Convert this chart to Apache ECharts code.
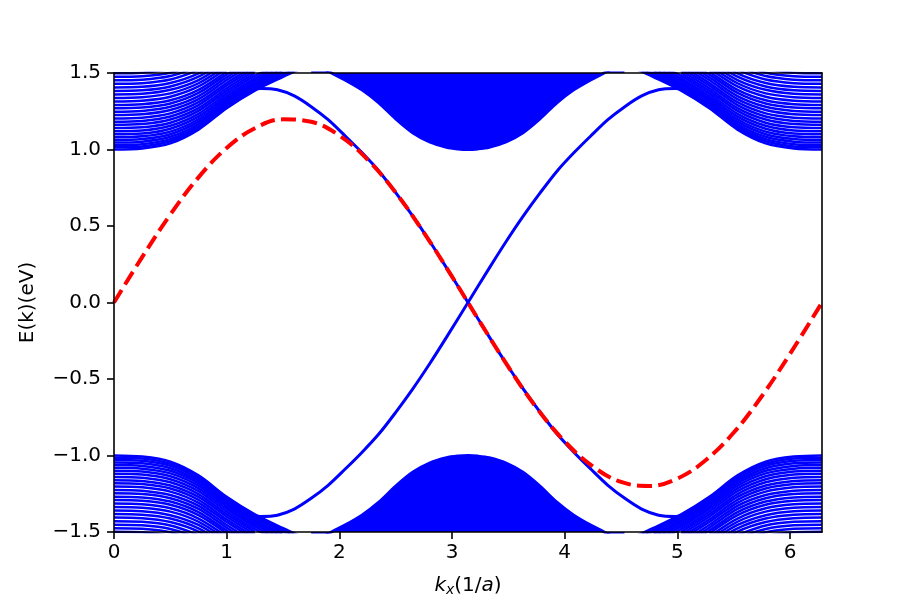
<!DOCTYPE html>
<html>
<head>
<meta charset="utf-8">
<script src="https://cdn.jsdelivr.net/npm/echarts@6/dist/echarts.min.js"></script>
<style>
html,body{margin:0;padding:0;background:#fff;}
#chart{width:913px;height:609px;}
</style>
</head>
<body>
<div id="chart"></div>
<script>
// ---- data ----
const xTicks = [0, 1, 2, 3, 4, 5, 6];
const yTicks = [-1.5, -1.0, -0.5, 0.0, 0.5, 1.0, 1.5];

// k positions of the bulk sub-band samples (left and right edges of the zone)
const kLeft  = [0, 0.25, 0.5, 0.75, 1.0, 1.25, 1.5, 1.75];
const kRight = [6.2832, 6.0332, 5.7832, 5.5332, 5.2832, 5.0332, 4.7832, 4.5332];

// conduction sub-bands near the zone edges (one row per band)
const bulkUpper = [
  [1.000, 1.007, 1.040, 1.130, 1.270, 1.385, 1.475, 1.560],
  [1.014, 1.020, 1.054, 1.140, 1.281, 1.398, 1.487, 1.569],
  [1.029, 1.035, 1.068, 1.153, 1.293, 1.410, 1.498, 1.579],
  [1.045, 1.051, 1.083, 1.167, 1.306, 1.423, 1.511],
  [1.062, 1.068, 1.100, 1.182, 1.319, 1.436, 1.523],
  [1.080, 1.086, 1.117, 1.198, 1.334, 1.450, 1.535],
  [1.099, 1.104, 1.136, 1.215, 1.349, 1.465, 1.549],
  [1.119, 1.124, 1.155, 1.233, 1.366, 1.481, 1.563],
  [1.140, 1.145, 1.175, 1.252, 1.383, 1.498],
  [1.161, 1.166, 1.196, 1.271, 1.400, 1.515],
  [1.182, 1.187, 1.216, 1.290, 1.418, 1.532],
  [1.203, 1.208, 1.236, 1.309, 1.435, 1.549],
  [1.225, 1.230, 1.258, 1.329, 1.454, 1.567],
  [1.247, 1.252, 1.279, 1.349, 1.472, 1.585],
  [1.269, 1.274, 1.301, 1.370, 1.491, 1.603],
  [1.291, 1.296, 1.322, 1.390, 1.510],
  [1.314, 1.319, 1.345, 1.412, 1.530],
  [1.337, 1.342, 1.367, 1.433, 1.549],
  [1.360, 1.364, 1.390, 1.454, 1.569],
  [1.383, 1.387, 1.412, 1.476, 1.589],
  [1.406, 1.410, 1.435, 1.498, 1.609],
  [1.429, 1.433, 1.457, 1.519],
  [1.452, 1.456, 1.480, 1.541],
  [1.475, 1.479, 1.502, 1.562],
  [1.498, 1.502, 1.525]
];
// valence sub-bands near the zone edges
const bulkLower = [
  [-1.000, -1.007, -1.040, -1.130, -1.270, -1.385, -1.475, -1.560],
  [-1.014, -1.020, -1.054, -1.140, -1.281, -1.398, -1.487, -1.569],
  [-1.029, -1.035, -1.068, -1.153, -1.293, -1.410, -1.498, -1.579],
  [-1.045, -1.051, -1.083, -1.167, -1.306, -1.423, -1.511],
  [-1.062, -1.068, -1.100, -1.182, -1.319, -1.436, -1.523],
  [-1.080, -1.086, -1.117, -1.198, -1.334, -1.450, -1.535],
  [-1.099, -1.104, -1.136, -1.215, -1.349, -1.465, -1.549],
  [-1.119, -1.124, -1.155, -1.233, -1.366, -1.481, -1.563],
  [-1.140, -1.145, -1.175, -1.252, -1.383, -1.498],
  [-1.161, -1.166, -1.196, -1.271, -1.400, -1.515],
  [-1.182, -1.187, -1.216, -1.290, -1.418, -1.532],
  [-1.203, -1.208, -1.236, -1.309, -1.435, -1.549],
  [-1.225, -1.230, -1.258, -1.329, -1.454, -1.567],
  [-1.247, -1.252, -1.279, -1.349, -1.472, -1.585],
  [-1.269, -1.274, -1.301, -1.370, -1.491, -1.603],
  [-1.291, -1.296, -1.322, -1.390, -1.510],
  [-1.314, -1.319, -1.345, -1.412, -1.530],
  [-1.337, -1.342, -1.367, -1.433, -1.549],
  [-1.360, -1.364, -1.390, -1.454, -1.569],
  [-1.383, -1.387, -1.412, -1.476, -1.589],
  [-1.406, -1.410, -1.435, -1.498, -1.609],
  [-1.429, -1.433, -1.457, -1.519],
  [-1.452, -1.456, -1.480, -1.541],
  [-1.475, -1.479, -1.502, -1.562],
  [-1.498, -1.502, -1.525]
];

// dense bulk continuum around k = pi (band edge)
const kMid      = [1.75, 1.93, 2.05, 2.20, 2.35, 2.50, 2.65, 2.80, 2.95, 3.05, 3.1416, 3.23, 3.33, 3.48, 3.63, 3.78, 3.93, 4.08, 4.23, 4.35, 4.53];
const midUpperE = [1.58, 1.50, 1.455, 1.39, 1.305, 1.20, 1.11, 1.05, 1.015, 1.004, 1.000, 1.004, 1.015, 1.05, 1.11, 1.20, 1.305, 1.39, 1.455, 1.50, 1.58];
const midLowerE = [-1.58, -1.50, -1.455, -1.39, -1.305, -1.20, -1.11, -1.05, -1.015, -1.004, -1.000, -1.004, -1.015, -1.05, -1.11, -1.20, -1.305, -1.39, -1.455, -1.50, -1.58];

// edge states
const kEdge  = [1.00, 1.15, 1.30, 1.45, 1.60, 1.75, 1.90, 2.05, 2.20, 2.35, 2.50, 2.65, 2.80, 2.95, 3.1416,
                3.333, 3.483, 3.633, 3.783, 3.933, 4.083, 4.233, 4.383, 4.533, 4.683, 4.833, 4.983, 5.133, 5.283];
const edge1E = [1.33, 1.375, 1.398, 1.39, 1.35, 1.28, 1.195, 1.09, 0.98, 0.86, 0.718, 0.566, 0.402, 0.228, 0.0,
                -0.228, -0.402, -0.566, -0.718, -0.86, -0.98, -1.09, -1.195, -1.28, -1.35, -1.39, -1.398, -1.375, -1.33];
const edge2E = [-1.33, -1.375, -1.398, -1.39, -1.35, -1.28, -1.195, -1.09, -0.98, -0.86, -0.718, -0.566, -0.402, -0.228, 0.0,
                0.228, 0.402, 0.566, 0.718, 0.86, 0.98, 1.09, 1.195, 1.28, 1.35, 1.39, 1.398, 1.375, 1.33];

// red dashed reference curve
const kRef = [0, 0.25, 0.5, 0.75, 1.0, 1.25, 1.5, 1.75, 2.0, 2.25, 2.5, 2.75, 3.0, 3.25, 3.5, 3.75, 4.0, 4.25, 4.5, 4.75, 5.0, 5.25, 5.5, 5.75, 6.0, 6.2832];
const refE = [0.0, 0.297, 0.575, 0.818, 1.010, 1.139, 1.197, 1.181, 1.091, 0.934, 0.718, 0.457, 0.169, -0.130, -0.421, -0.688, -0.908, -1.072, -1.173, -1.199, -1.151, -1.031, -0.850, -0.611, -0.335, 0.0];

// ---- build chart ----
const BLUE = '#0000ff';
const LW = 3;
const LW_SUB = 2.5;
const font = 'DejaVu Sans';
const FS = 20;

function pairs(ks, es) { return es.map((e, i) => [ks[i], e]); }

const series = [];
function bandLine(data) {
  series.push({
    type: 'line', data: data, showSymbol: false, symbol: 'none',
    smooth: 0.3, clip: true, silent: true,
    lineStyle: { color: BLUE, width: LW_SUB }, z: 2
  });
}
bulkUpper.forEach(r => { bandLine(pairs(kLeft, r)); bandLine(pairs(kRight, r)); });
bulkLower.forEach(r => { bandLine(pairs(kLeft, r)); bandLine(pairs(kRight, r)); });

series.push({
  type: 'line', data: pairs(kMid, midUpperE), showSymbol: false, symbol: 'none',
  smooth: 0.3, clip: true, silent: true,
  lineStyle: { color: BLUE, width: LW }, areaStyle: { color: BLUE, opacity: 1, origin: 'end' }, z: 2
});
series.push({
  type: 'line', data: pairs(kMid, midLowerE), showSymbol: false, symbol: 'none',
  smooth: 0.3, clip: true, silent: true,
  lineStyle: { color: BLUE, width: LW }, areaStyle: { color: BLUE, opacity: 1, origin: 'start' }, z: 2
});
[edge1E, edge2E].forEach(e => series.push({
  type: 'line', data: pairs(kEdge, e), showSymbol: false, symbol: 'none',
  smooth: 0.3, clip: true, silent: true,
  lineStyle: { color: BLUE, width: LW }, z: 3
}));
series.push({
  type: 'line', data: pairs(kRef, refE), showSymbol: false, symbol: 'none',
  smooth: 0.4, clip: true, silent: true,
  lineStyle: { color: '#ff0000', width: 4, type: [14.8, 6.4], cap: 'butt' }, z: 4
});

const fmtY = v => v.toFixed(1).replace('-', '\u2212');
const axisLineStyle = { color: '#000', width: 1.6 };

const chart = echarts.init(document.getElementById('chart'), null, { renderer: 'canvas' });
chart.setOption({
  animation: false,
  backgroundColor: '#ffffff',
  textStyle: { fontFamily: font },
  grid: { left: 114, right: 91, top: 73, bottom: 77, containLabel: false },
  xAxis: [{
    type: 'value', min: 0, max: 6.283185, interval: 1, position: 'bottom', z: 10,
    axisLine: { show: true, onZero: false, lineStyle: axisLineStyle },
    axisTick: { show: true, inside: false, length: 7, lineStyle: axisLineStyle, customValues: xTicks },
    axisLabel: { show: true, margin: 11, fontSize: FS, color: '#000', fontFamily: font, customValues: xTicks,
                 formatter: v => String(Math.round(v)) },
    splitLine: { show: false },
    name: '{i|k}{s|x}{n|(1/}{i|a}{n|)}', nameLocation: 'middle', nameGap: 44,
    nameTextStyle: {
      color: '#000', fontFamily: font, fontSize: FS,
      rich: {
        i: { fontStyle: 'italic', fontSize: FS, lineHeight: 20, verticalAlign: 'top', fontFamily: font, color: '#000' },
        n: { fontSize: FS, lineHeight: 20, verticalAlign: 'top', fontFamily: font, color: '#000' },
        s: { fontStyle: 'italic', fontSize: 14, lineHeight: 20, verticalAlign: 'top', fontFamily: font, color: '#000', padding: [7, 0, 0, 0] }
      }
    }
  }, {
    type: 'value', min: 0, max: 6.283185, position: 'top', z: 10,
    axisLine: { show: true, onZero: false, lineStyle: axisLineStyle },
    axisTick: { show: false }, axisLabel: { show: false }, splitLine: { show: false }
  }],
  yAxis: [{
    type: 'value', min: -1.5, max: 1.5, interval: 0.5, position: 'left', z: 10,
    axisLine: { show: true, onZero: false, lineStyle: axisLineStyle },
    axisTick: { show: true, inside: false, length: 7, lineStyle: axisLineStyle, customValues: yTicks },
    axisLabel: { show: true, margin: 13, fontSize: FS, color: '#000', fontFamily: font, formatter: fmtY, customValues: yTicks },
    splitLine: { show: false },
    name: 'E(k)(eV)', nameLocation: 'middle', nameGap: 76, nameRotate: 90,
    nameTextStyle: { color: '#000', fontFamily: font, fontSize: FS }
  }, {
    type: 'value', min: -1.5, max: 1.5, position: 'right', z: 10,
    axisLine: { show: true, onZero: false, lineStyle: axisLineStyle },
    axisTick: { show: false }, axisLabel: { show: false }, splitLine: { show: false }
  }],
  series: series
});
</script>
</body>
</html>
